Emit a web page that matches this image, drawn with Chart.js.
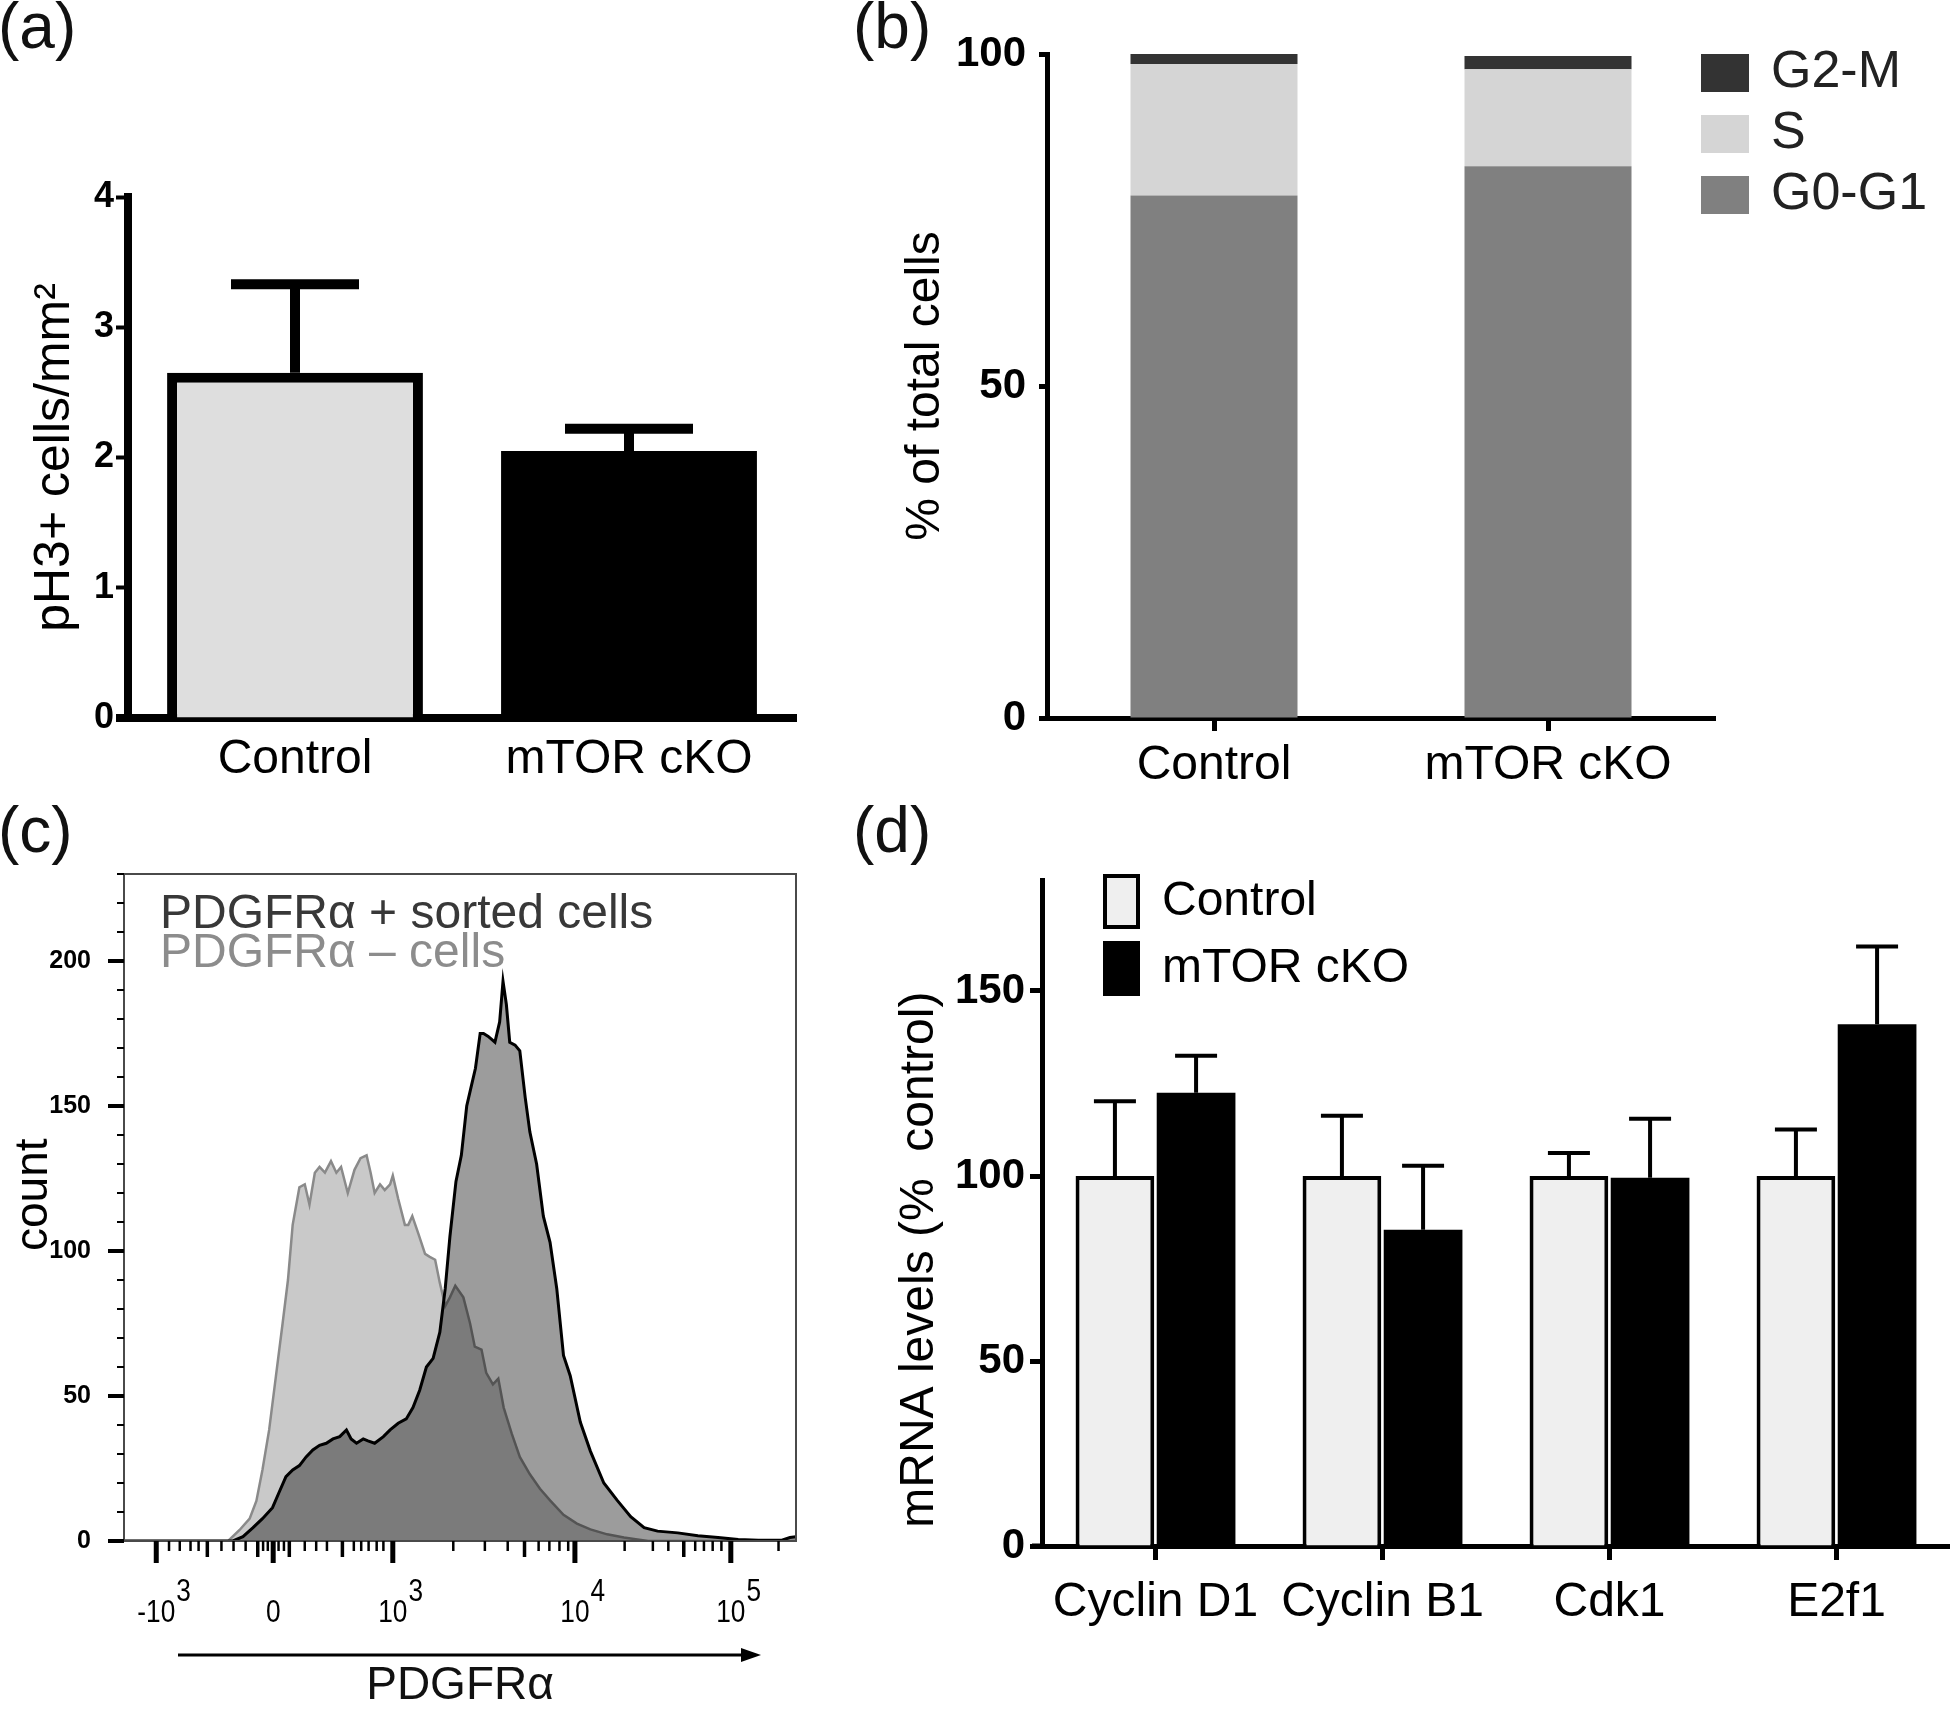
<!DOCTYPE html>
<html><head><meta charset="utf-8">
<script src="https://cdn.jsdelivr.net/npm/chart.js@4.4.1/dist/chart.umd.min.js"></script>
<style>
html,body{margin:0;padding:0;background:#fff;}
#fig{position:relative;width:1950px;height:1714px;overflow:hidden;background:#fff;}
canvas{position:absolute;}
.plabel{position:absolute;font-family:'Liberation Sans',Arial,sans-serif;font-size:64px;line-height:64px;color:#111;white-space:nowrap;}
</style></head><body>
<div id="fig">
<canvas id="ca" width="845" height="800" style="left:0px;top:0px"></canvas>
<canvas id="cb" width="1105" height="800" style="left:845px;top:0px"></canvas>
<canvas id="cc" width="845" height="914" style="left:0px;top:800px"></canvas>
<canvas id="cd" width="1105" height="914" style="left:845px;top:800px"></canvas>
<div class="plabel" style="left:-2px;top:-6px">(a)</div>
<div class="plabel" style="left:853px;top:-6px">(b)</div>
<div class="plabel" style="left:-2px;top:798px">(c)</div>
<div class="plabel" style="left:853px;top:798px">(d)</div>
</div>
<script>
// ---------------- DATA ----------------
// (a) pH3+ cells / mm2
const groupsA = ['Control', 'mTOR cKO'];
const pH3Mean = [2.65, 2.05];
const pH3Err = [0.68, 0.17];

// (b) cell-cycle phases (% of total cells)
const groupsB = ['Control', 'mTOR cKO'];
const phaseG0G1 = [78.7, 83.1];
const phaseS = [19.8, 14.6];
const phaseG2M = [1.5, 2.0];

// (c) flow histogram (x in display channel units 0-100, y = count)
const posChannel = [0, 16.2, 17.7, 19.2, 20.6, 22.1, 23.1, 24.1, 25.1, 26.1, 27.1, 28.1, 29.1, 30.1, 31.1, 32.1, 33.1, 33.8, 34.6, 35.6, 36.3, 37.3, 38.6, 39.6, 40.8, 42.0, 43.0, 44.0, 45.0, 46.0, 47.0, 47.8, 48.5, 49.4, 50.2, 51.0, 51.7, 52.3, 53.0, 53.5, 54.2, 55.2, 55.9, 56.4, 56.9, 57.4, 58.2, 58.9, 59.7, 60.4, 61.4, 62.4, 63.4, 64.4, 65.4, 66.4, 67.9, 69.4, 71.4, 73.4, 75.4, 77.4, 79.4, 82.4, 85.4, 88.4, 91.4, 94.4, 97.9, 99.1, 100];
const posCount = [0, 0, 1.5, 4.6, 7.7, 11.5, 16.9, 22.2, 24.5, 26, 29, 31.4, 33, 33.7, 35.2, 36, 38.3, 35.2, 33.7, 35.2, 34.5, 33.7, 36, 38.3, 40.6, 42.1, 46, 52, 60, 63, 72, 87, 105, 124, 133, 150, 157, 163, 175, 175, 174, 172, 179, 193, 185, 172, 171, 169, 153, 141, 130, 112, 103, 87, 64, 57, 41, 31, 20, 14, 8.4, 4.6, 3.4, 2.8, 1.8, 1.2, 0.5, 0.3, 0.3, 1.2, 1.5];
const negChannel = [0, 15.5, 17.2, 18.7, 19.7, 20.6, 21.6, 22.6, 23.6, 24.4, 25.1, 26.1, 26.9, 27.6, 28.4, 29.1, 29.9, 30.8, 31.6, 32.3, 33.3, 34.3, 35.2, 36.1, 36.7, 37.3, 38.1, 38.8, 39.6, 40.0, 40.8, 41.8, 42.3, 42.9, 43.8, 44.8, 45.5, 46.3, 47.0, 47.8, 48.5, 49.3, 50.5, 51.5, 52.2, 53.2, 53.9, 54.9, 55.7, 56.5, 57.7, 58.9, 60.4, 61.9, 63.4, 65.4, 67.4, 69.4, 71.9, 74.4, 76.4, 78.0, 100];
const negCount = [0, 0, 3.8, 7.7, 13.8, 24.5, 38.3, 56.7, 75, 90, 109, 122, 123, 116, 127, 129, 127, 131, 127, 129, 120, 128, 132, 133, 127, 120, 123, 121, 123, 126, 118, 109, 109, 112, 106, 99, 98, 97, 89, 81, 84, 88, 84, 75, 67, 66, 58, 54, 56, 46, 37, 29, 23, 18, 14, 9, 6, 4, 2.3, 1.2, 0.5, 0, 0];
const xMajorTicks = [4.8, 22.2, 40.0, 67.1, 90.3];
const xMajorBase = ['-10', '0', '10', '10', '10'];
const xMajorExp = ['3', '', '3', '4', '5'];
const xMediumTicks = [12.4, 19.9, 24.6, 32.5, 59.6, 83.3];
const xMinorTicks = [6.7, 8.3, 9.9, 11.1, 14.5, 16.3, 18.1, 20.7, 21.4, 23.0, 23.8, 26.9, 28.6, 30.2, 34.2, 35.3, 36.4, 37.6, 38.6, 49.0, 53.7, 57.1, 61.7, 63.3, 64.8, 66.1, 74.5, 78.7, 81.0, 85.0, 86.3, 87.6, 88.9, 97.4];

// (d) mRNA levels (% control)
const genesD = ['Cyclin D1', 'Cyclin B1', 'Cdk1', 'E2f1'];
const mrnaControl = [100, 100, 100, 100];
const mrnaControlErr = [20.2, 16.3, 6.2, 12.6];
const mrnaCKO = [122.5, 85.5, 99.5, 141];
const mrnaCKOErr = [10, 17.3, 16, 21];

// ---------------- SETUP ----------------
const SANS = "'Liberation Sans', Arial, Helvetica, sans-serif";
Chart.defaults.font.family = SANS;
Chart.defaults.color = '#000';

const common = { responsive: false, maintainAspectRatio: false, animation: false, devicePixelRatio: 1, events: [] };

const errorBarPlugin = {
  id: 'errorBars',
  afterDatasetsDraw(chart, args, o) {
    if (!o || !o.sets) return;
    const ctx = chart.ctx, y = chart.scales.y;
    ctx.save();
    ctx.strokeStyle = o.color; ctx.lineWidth = o.lineWidth; ctx.lineCap = 'butt';
    o.sets.forEach(set => {
      const ds = chart.data.datasets[set.dataset];
      const meta = chart.getDatasetMeta(set.dataset);
      meta.data.forEach((el, i) => {
        const top = y.getPixelForValue(ds.data[i] + set.errors[i]);
        ctx.beginPath();
        ctx.moveTo(el.x, el.y); ctx.lineTo(el.x, top);
        ctx.moveTo(el.x - o.capWidth / 2, top); ctx.lineTo(el.x + o.capWidth / 2, top);
        ctx.stroke();
      });
    });
    ctx.restore();
  }
};

const axisExtendPlugin = {
  id: 'axisExtend',
  afterDraw(chart, args, o) {
    if (!o || !o.length) return;
    const ctx = chart.ctx, a = chart.chartArea;
    ctx.save();
    ctx.strokeStyle = o.color; ctx.lineWidth = o.width;
    ctx.beginPath(); ctx.moveTo(a.left - o.length, a.bottom); ctx.lineTo(a.left, a.bottom); ctx.stroke();
    ctx.restore();
  }
};

const customLegendPlugin = {
  id: 'customLegend',
  afterDraw(chart, args, o) {
    if (!o || !o.items) return;
    const ctx = chart.ctx;
    ctx.save();
    ctx.font = o.font;
    o.items.forEach((idx, k) => {
      const ds = chart.data.datasets[idx];
      const top = o.y + k * o.rowGap;
      if (o.boxWidth) {
        ctx.fillStyle = ds.backgroundColor;
        ctx.fillRect(o.x, top, o.boxWidth, o.boxHeight);
        const bw = ds.borderWidth || 0;
        if (bw > 0) {
          ctx.strokeStyle = ds.borderColor; ctx.lineWidth = bw;
          ctx.strokeRect(o.x + bw / 2, top + bw / 2, o.boxWidth - bw, o.boxHeight - bw);
        }
        ctx.fillStyle = o.textColor;
        ctx.textBaseline = 'middle'; ctx.textAlign = 'left';
        ctx.fillText(ds.label, o.textX, top + o.boxHeight / 2);
      } else {
        ctx.fillStyle = o.textColors[k];
        ctx.textBaseline = 'alphabetic'; ctx.textAlign = 'left';
        ctx.fillText(ds.label, o.textX, top);
      }
    });
    ctx.restore();
  }
};

const flowAxesPlugin = {
  id: 'flowAxes',
  afterDraw(chart, args, o) {
    const ctx = chart.ctx, a = chart.chartArea, x = chart.scales.x, y = chart.scales.y;
    ctx.save();
    ctx.strokeStyle = o.frameColor; ctx.lineWidth = o.frameWidth;
    ctx.strokeRect(a.left, a.top, a.right - a.left, a.bottom - a.top);
    ctx.strokeStyle = '#000';
    const xt = (vals, len, w) => {
      ctx.lineWidth = w;
      vals.forEach(v => {
        const px = x.getPixelForValue(v);
        ctx.beginPath(); ctx.moveTo(px, a.bottom); ctx.lineTo(px, a.bottom + len); ctx.stroke();
      });
    };
    xt(o.minor, 10, 2.5); xt(o.medium, 16, 3.5); xt(o.major, 22, 5);
    for (let v = y.min; v <= y.max; v += o.yMinorStep) {
      const major = v % o.yMajorStep === 0;
      const py = y.getPixelForValue(v);
      ctx.lineWidth = major ? 4 : 2;
      ctx.beginPath(); ctx.moveTo(a.left, py); ctx.lineTo(a.left - (major ? 16 : 7), py); ctx.stroke();
    }
    ctx.fillStyle = '#000';
    ctx.font = o.labelFont;
    ctx.textBaseline = 'middle';
    const sx = o.labelStretch;
    o.major.forEach((v, i) => {
      const px = x.getPixelForValue(v);
      const w = ctx.measureText(o.base[i]).width * sx;
      ctx.save();
      ctx.translate(px - w / 2, a.bottom + o.labelOffset);
      ctx.scale(sx, 1);
      ctx.textAlign = 'left';
      ctx.fillText(o.base[i], 0, 0);
      ctx.restore();
      if (o.exp[i]) {
        ctx.save();
        ctx.translate(px + w / 2 + 1, a.bottom + o.expOffset);
        ctx.scale(sx, 1);
        ctx.textAlign = 'left';
        ctx.fillText(o.exp[i], 0, 0);
        ctx.restore();
      }
    });
    // axis direction arrow
    const ay = a.bottom + o.arrowOffset, x0 = a.left + o.arrowStart, x1 = a.right - o.arrowEnd;
    ctx.lineWidth = 3;
    ctx.beginPath(); ctx.moveTo(x0, ay); ctx.lineTo(x1 - 10, ay); ctx.stroke();
    ctx.beginPath(); ctx.moveTo(x1, ay); ctx.lineTo(x1 - 20, ay - 7); ctx.lineTo(x1 - 20, ay + 7); ctx.closePath(); ctx.fill();
    ctx.restore();
  }
};

// ---------------- (a) ----------------
new Chart(document.getElementById('ca'), {
  type: 'bar',
  data: { labels: groupsA, datasets: [{
    label: 'pH3+ cells/mm²', data: pH3Mean,
    backgroundColor: ['#dedede', '#000000'], borderColor: '#000000', borderWidth: [10, 0],
    barPercentage: 0.766, categoryPercentage: 1, borderSkipped: 'start'
  }]},
  options: Object.assign({}, common, {
    layout: { padding: { left: 0, top: 197, right: 49, bottom: 0 } },
    scales: {
      x: { z: 1, afterFit: s => { s.height = 82; },
        grid: { display: false, drawTicks: false },
        border: { display: true, color: '#000', width: 8 },
        ticks: { font: { size: 48 }, color: '#000', padding: 13 } },
      y: { z: 1, min: 0, max: 4, afterFit: s => { s.width = 128; },
        ticks: { stepSize: 1, font: { size: 36, weight: 'bold' }, color: '#000', padding: 2 },
        grid: { display: true, drawOnChartArea: false, drawTicks: true, tickLength: 12, tickWidth: 4, tickColor: '#000' },
        border: { display: true, color: '#000', width: 8 },
        title: { display: true, text: 'pH3+ cells/mm²', font: { size: 50 }, color: '#000', padding: { top: 25, bottom: 0 } } }
    },
    plugins: { legend: { display: false }, tooltip: { enabled: false },
      errorBars: { sets: [{ dataset: 0, errors: pH3Err }], lineWidth: 10, capWidth: 128, color: '#000' },
      axisExtend: { length: 12, width: 8, color: '#000' } }
  }),
  plugins: [errorBarPlugin, axisExtendPlugin]
});

// ---------------- (b) ----------------
new Chart(document.getElementById('cb'), {
  type: 'bar',
  data: { labels: groupsB, datasets: [
    { label: 'G0-G1', data: phaseG0G1, backgroundColor: '#808080', borderWidth: 0, barPercentage: 0.5, categoryPercentage: 1 },
    { label: 'S', data: phaseS, backgroundColor: '#d5d5d5', borderWidth: 0, barPercentage: 0.5, categoryPercentage: 1 },
    { label: 'G2-M', data: phaseG2M, backgroundColor: '#333333', borderWidth: 0, barPercentage: 0.5, categoryPercentage: 1 }
  ]},
  options: Object.assign({}, common, {
    layout: { padding: { left: 0, top: 54, right: 235, bottom: 0 } },
    scales: {
      x: { z: 1, stacked: true, afterFit: s => { s.height = 82; },
        grid: { display: true, offset: false, drawOnChartArea: false, drawTicks: true, tickLength: 13, tickWidth: 5, tickColor: '#000' },
        border: { display: true, color: '#000', width: 5 },
        ticks: { font: { size: 48 }, color: '#000', padding: 6 } },
      y: { z: 1, stacked: true, min: 0, max: 100, afterFit: s => { s.width = 202; },
        ticks: { stepSize: 50, includeBounds: false, font: { size: 42, weight: 'bold' }, color: '#000', padding: 13 },
        grid: { display: true, drawOnChartArea: false, drawTicks: true, tickLength: 8, tickWidth: 5, tickColor: '#000' },
        border: { display: true, color: '#000', width: 5 },
        title: { display: true, text: '% of total cells', font: { size: 48 }, color: '#000', padding: { top: 52, bottom: 0 } } }
    },
    plugins: { legend: { display: false }, tooltip: { enabled: false },
      customLegend: { items: [2, 1, 0], x: 856, y: 54, rowGap: 61, boxWidth: 48, boxHeight: 38, textX: 926,
        font: "52px " + SANS, textColor: '#222' } }
  }),
  plugins: [customLegendPlugin]
});

// ---------------- (c) ----------------
new Chart(document.getElementById('cc'), {
  type: 'line',
  data: { datasets: [
    { label: 'PDGFRα + sorted cells', data: posChannel.map((c, i) => ({ x: c, y: posCount[i] })),
      borderColor: '#000000', borderWidth: 3, backgroundColor: 'rgba(0,0,0,0.39)', fill: 'origin',
      pointRadius: 0, tension: 0 },
    { label: 'PDGFRα – cells', data: negChannel.map((c, i) => ({ x: c, y: negCount[i] })),
      borderColor: '#8a8a8a', borderWidth: 2.5, backgroundColor: 'rgba(0,0,0,0.21)', fill: 'origin',
      pointRadius: 0, tension: 0 }
  ]},
  options: Object.assign({}, common, {
    layout: { padding: { left: 0, top: 74, right: 49, bottom: 0 } },
    scales: {
      x: { type: 'linear', min: 0, max: 100, afterFit: s => { s.height = 173; },
        ticks: { display: false }, grid: { display: false, drawTicks: false }, border: { display: false },
        title: { display: true, text: 'PDGFRα', font: { size: 46 }, color: '#111', padding: { top: 0, bottom: 0 } } },
      y: { min: 0, max: 230, afterFit: s => { s.width = 124; },
        ticks: { stepSize: 50, includeBounds: false, font: { size: 25, weight: 'bold' }, color: '#000', padding: 33 },
        grid: { display: false, drawTicks: false }, border: { display: false },
        title: { display: true, text: '\u00a0\u00a0count', font: { size: 46 }, color: '#000', padding: { top: 7, bottom: 0 } } }
    },
    plugins: { legend: { display: false }, tooltip: { enabled: false },
      customLegend: { items: [0, 1], x: 160, y: 128, rowGap: 39, textX: 160, font: "48px " + SANS,
        textColors: ['#383838', '#8c8c8c'] },
      flowAxes: { frameColor: '#4a4a4a', frameWidth: 2, major: xMajorTicks, medium: xMediumTicks, minor: xMinorTicks,
        base: xMajorBase, exp: xMajorExp, labelFont: "32px " + SANS, labelStretch: 0.82, labelOffset: 72, expOffset: 51,
        yMinorStep: 10, yMajorStep: 50, arrowOffset: 114, arrowStart: 54, arrowEnd: 35 } }
  }),
  plugins: [customLegendPlugin, flowAxesPlugin]
});

// ---------------- (d) ----------------
new Chart(document.getElementById('cd'), {
  type: 'bar',
  data: { labels: genesD, datasets: [
    { label: 'Control', data: mrnaControl, backgroundColor: '#efefef', borderColor: '#000000', borderWidth: 4,
      categoryPercentage: 0.715, barPercentage: 0.97, borderSkipped: 'start' },
    { label: 'mTOR cKO', data: mrnaCKO, backgroundColor: '#000000', borderColor: '#000000', borderWidth: 0,
      categoryPercentage: 0.715, barPercentage: 0.97 }
  ]},
  options: Object.assign({}, common, {
    layout: { padding: { left: 0, top: 80, right: 0, bottom: 0 } },
    scales: {
      x: { z: 1, afterFit: s => { s.height = 168; },
        grid: { display: true, offset: false, drawOnChartArea: false, drawTicks: true, tickLength: 14, tickWidth: 5, tickColor: '#000' },
        border: { display: true, color: '#000', width: 5 },
        ticks: { font: { size: 48 }, color: '#000', padding: 14 } },
      y: { z: 1, min: 0, max: 180, afterFit: s => { s.width = 197; },
        ticks: { stepSize: 50, includeBounds: false, font: { size: 42, weight: 'bold' }, color: '#000', padding: 5 },
        grid: { display: true, drawOnChartArea: false, drawTicks: true, tickLength: 12, tickWidth: 5, tickColor: '#000' },
        border: { display: true, color: '#000', width: 5 },
        title: { display: true, text: 'mRNA levels (%  control)\u00a0\u00a0\u00a0\u00a0\u00a0\u00a0\u00a0', font: { size: 48 }, color: '#000', padding: { top: 46, bottom: 0 } } }
    },
    plugins: { legend: { display: false }, tooltip: { enabled: false },
      errorBars: { sets: [{ dataset: 0, errors: mrnaControlErr }, { dataset: 1, errors: mrnaCKOErr }], lineWidth: 4, capWidth: 42, color: '#000' },
      axisExtend: { length: 10, width: 5, color: '#000' },
      customLegend: { items: [0, 1], x: 258, y: 74, rowGap: 67, boxWidth: 37, boxHeight: 55, textX: 317,
        font: "48px " + SANS, textColor: '#000' } }
  }),
  plugins: [errorBarPlugin, axisExtendPlugin, customLegendPlugin]
});
</script>
</body></html>
